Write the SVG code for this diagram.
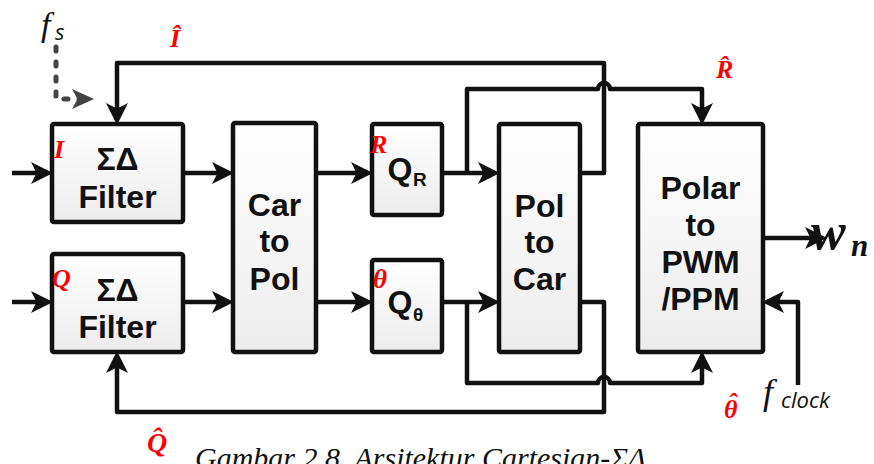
<svg xmlns="http://www.w3.org/2000/svg" width="874" height="464" viewBox="0 0 874 464">
<style>
.box{fill:url(#bg);stroke:#111;stroke-width:4.5}
.lbl{font-family:"Liberation Sans",Arial,sans-serif;font-weight:bold;font-size:32px;fill:#111;text-anchor:middle}
.sub{font-family:"Liberation Sans",Arial,sans-serif;font-weight:bold;font-size:19px;fill:#111}
.wire{fill:none;stroke:#111;stroke-width:4.5;stroke-linejoin:round}
.arw{marker-end:url(#ah)}
.red{font-family:"Liberation Serif",serif;font-style:italic;font-weight:bold;fill:#ff0000}
.math{font-family:"Liberation Serif",serif;font-style:italic;fill:#111}
.sans-i{font-family:"Open Sans","Liberation Sans",sans-serif;font-style:italic;fill:#111}
</style>
<defs>
<linearGradient id="bg" x1="0" y1="0" x2="0" y2="1">
<stop offset="0" stop-color="#ffffff"/>
<stop offset="1" stop-color="#ececec"/>
</linearGradient>
<marker id="ah" markerUnits="userSpaceOnUse" markerWidth="22" markerHeight="22" viewBox="0 0 20 20" refX="10" refY="10" orient="auto">
<path d="M0,0 L20,10 L0,20 L5,10 Z" fill="#111"/>
</marker>
<marker id="ahg" markerUnits="userSpaceOnUse" markerWidth="22" markerHeight="22" viewBox="0 0 20 20" refX="10" refY="10" orient="auto">
<path d="M0,1 L20,10 L0,19 L5,10 Z" fill="#444"/>
</marker>
</defs>

<g id="connectors">
<path class="wire arw" d="M12,173 H42"/>
<path class="wire arw" d="M183,173 H223"/>
<path class="wire arw" d="M12,302 H42"/>
<path class="wire arw" d="M183,302 H223"/>
<path class="wire arw" d="M316,173 H362"/>
<path class="wire arw" d="M316,302 H362"/>
<path class="wire arw" d="M442,173 H489"/>
<path class="wire arw" d="M442,302 H489"/>
<path class="wire arw" d="M467,173 V89 H598 A6,6 0 0 1 610,89 H702 V114"/>
<path class="wire arw" d="M580,173 H604 V63 H117 V114"/>
<path class="wire arw" d="M467,302 V383 H598 A6,6 0 0 1 610,383 H702 V362"/>
<path class="wire arw" d="M580,302 H604 V412 H117 V362"/>
<path class="wire arw" d="M763,238 H816"/>
<path class="wire arw" d="M798,385 V302 H773"/>
<path d="M56,47 V99 H83" fill="none" stroke="#444" stroke-width="5" stroke-linecap="round" stroke-dasharray="4 11" stroke-linejoin="round" marker-end="url(#ahg)"/>
</g>

<g id="sd1">
<rect class="box" x="52" y="124" width="131" height="98" rx="2"/>
<text class="lbl" x="117.5" y="170">ΣΔ</text>
<text class="lbl" x="117.5" y="208">Filter</text>
<text class="red" x="54" y="158" font-size="26">I</text>
</g>
<g id="sd2">
<rect class="box" x="52" y="254" width="131" height="98" rx="2"/>
<text class="lbl" x="117.5" y="301">ΣΔ</text>
<text class="lbl" x="117.5" y="338">Filter</text>
<text class="red" x="52" y="287" font-size="26">Q</text>
</g>
<g id="car2pol">
<rect class="box" x="233" y="123" width="83" height="229" rx="2"/>
<text class="lbl" x="274.5" y="216">Car</text>
<text class="lbl" x="274.5" y="252">to</text>
<text class="lbl" x="274.5" y="290">Pol</text>
</g>
<g id="qr">
<rect class="box" x="372" y="124" width="70" height="91" rx="2"/>
<text class="lbl" x="400" y="180">Q</text>
<text class="sub" x="413" y="186">R</text>
<text class="red" x="370" y="153" font-size="26">R</text>
</g>
<g id="qt">
<rect class="box" x="372" y="260" width="70" height="92" rx="2"/>
<text class="lbl" x="400" y="313">Q</text>
<text class="sub" x="413" y="321">θ</text>
<text class="red" x="373" y="288" font-size="27" font-weight="normal">θ</text>
</g>
<g id="pol2car">
<rect class="box" x="499" y="124" width="81" height="228" rx="2"/>
<text class="lbl" x="539.5" y="217">Pol</text>
<text class="lbl" x="539.5" y="253">to</text>
<text class="lbl" x="539.5" y="290">Car</text>
</g>
<g id="pwm">
<rect class="box" x="638" y="124" width="125" height="228" rx="2"/>
<text class="lbl" x="700.5" y="199">Polar</text>
<text class="lbl" x="700.5" y="236">to</text>
<text class="lbl" x="700.5" y="273">PWM</text>
<text class="lbl" x="700.5" y="310">/PPM</text>
</g>

<g id="labels">
<text class="red" x="170" y="47" font-size="26">Î</text>
<text class="red" x="716" y="78" font-size="26">R̂</text>
<text class="red" x="724" y="418" font-size="26">θ<tspan dx="-9.5" dy="-7">ˆ</tspan></text>
<text class="red" x="147" y="452" font-size="28">Q̂</text>
<text class="math" x="41" y="36" font-size="34">f</text>
<text class="sans-i" x="55" y="40" font-size="22">s</text>
<text class="math" x="763" y="404" font-size="36">f</text>
<text class="sans-i" x="781" y="408" font-size="22">clock</text>
<text class="math" x="811" y="249" font-size="52" font-weight="bold">w</text>
<text class="math" x="851" y="256" font-size="31" font-weight="bold">n</text>
<text class="math" x="195" y="468" font-size="30">Gambar 2.8. Arsitektur Cartesian-ΣΔ</text>
</g>
</svg>
